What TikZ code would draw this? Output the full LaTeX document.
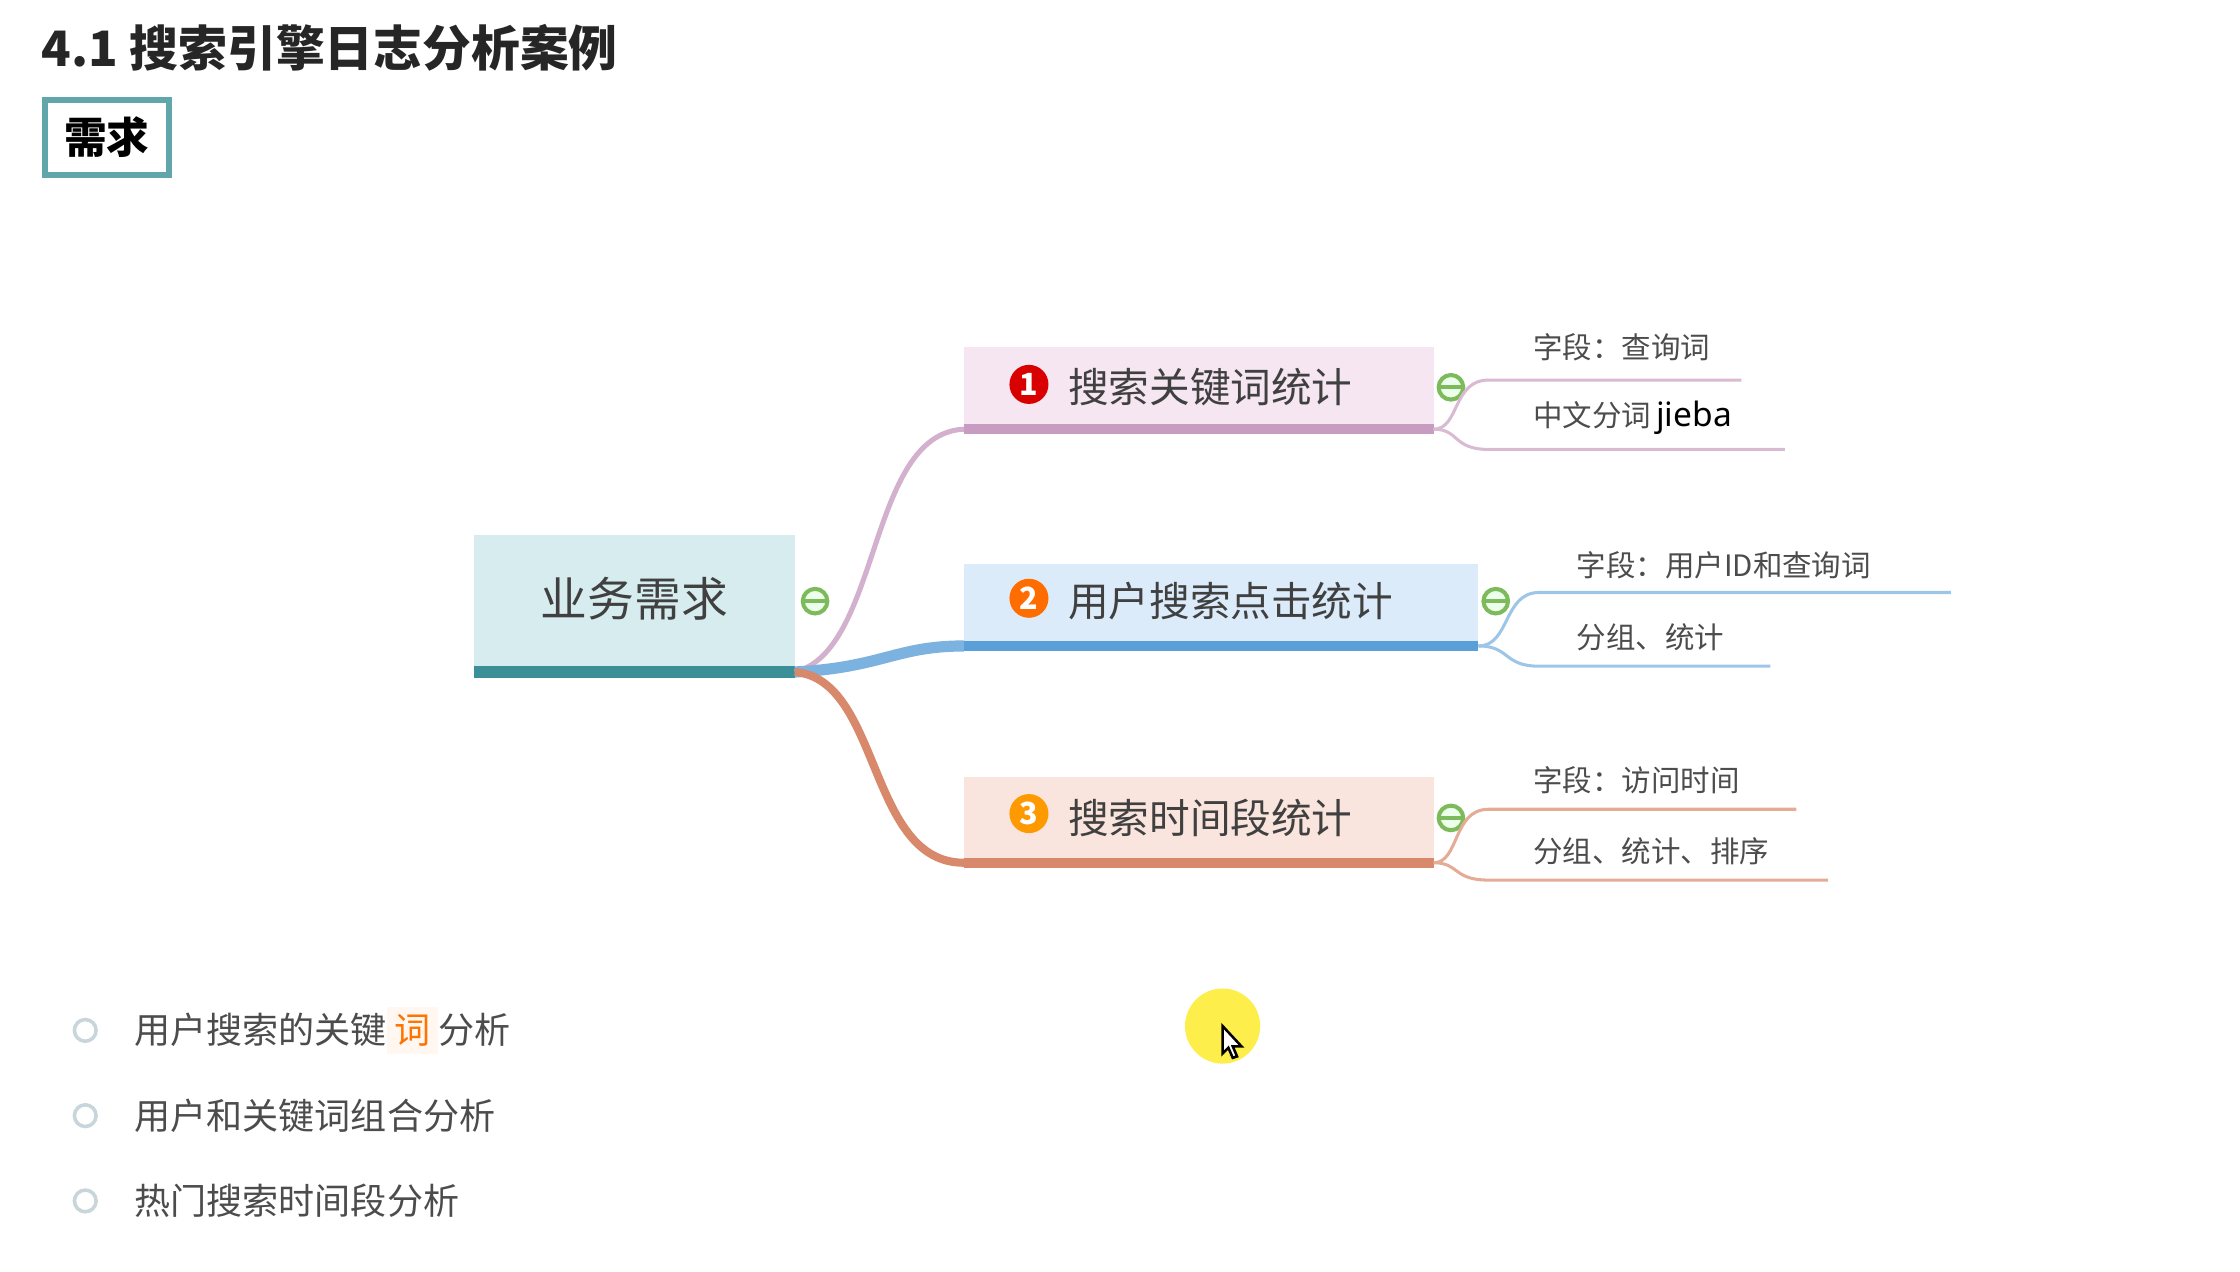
\documentclass[tikz,border=0pt]{standalone}
\usepackage{fontspec}
\setmainfont{Noto Sans CJK SC}
\newfontfamily\jieba{Noto Sans}
\usetikzlibrary{positioning}
\definecolor{teal1}{HTML}{D6ECEE}
\definecolor{teal2}{HTML}{3A9096}
\definecolor{pink1}{HTML}{F6E6F1}
\definecolor{pink2}{HTML}{C89CC0}
\definecolor{blue1}{HTML}{DCEBF9}
\definecolor{blue2}{HTML}{5B9FD8}
\definecolor{sal1}{HTML}{F9E5DD}
\definecolor{sal2}{HTML}{D9896B}
\definecolor{foldc}{HTML}{7DBA5C}

\begin{document}
\begin{tikzpicture}[x=0.01cm,y=-0.01cm,semithick]
  \tikzstyle{topic}=[draw=none,text=black!75,font=\fontsize{8}{9}\selectfont,
    inner sep=0pt,anchor=north west]
  \tikzstyle{leaf}=[text=black!70,font=\fontsize{5.8}{7}\selectfont,anchor=west,inner sep=0pt]
  \tikzstyle{fold}=[circle,draw=foldc,fill=green!8,line width=0.8pt,minimum size=0.17cm,inner sep=0pt,
    path picture={\draw[foldc,line width=0.8pt] ([xshift=-2.2pt]path picture bounding box.center)
      -- ([xshift=2.2pt]path picture bounding box.center);}]
  \tikzstyle{num}=[circle,fill=#1,text=white,minimum size=0.27cm,inner sep=0pt,
    font=\fontsize{6}{6}\selectfont\bfseries]
  \tikzstyle{bullet}=[circle,draw=cyan!25!gray!40,line width=0.7pt,minimum size=0.15cm,inner sep=0pt]
  \tikzstyle{item}=[text=black!70,font=\fontsize{7.1}{8}\selectfont,anchor=west,inner sep=0pt]

  \useasboundingbox (0,0) rectangle (1550,880);

  % heading
  \node[anchor=west,inner sep=0pt,font=\fontsize{9.6}{11}\selectfont\bfseries,text=black!85]
    (title) at (28,33) {4.1 搜索引擎日志分析案例};
  \node[draw=teal2!80,line width=1.2pt,minimum width=0.86cm,minimum height=0.5cm,
    font=\fontsize{8.4}{10}\selectfont\bfseries] (req) at (74,95) {需求};

  % central topic
  \fill[teal1] (328,370) rectangle (550,465);
  \draw[teal2,line width=2.2pt] (328,465) -- (550,465);
  \node[text=black!75,font=\fontsize{9.2}{10}\selectfont] (root) at (439,414) {业务需求};
  \coordinate (rootc) at (550,465);
  \node[fold] (f0) at (564,416) {};

  % branches
  \fill[pink1] (667,240) rectangle (992,297);
  \draw[pink2,line width=2pt] (667,297) coordinate (b1) -- (992,297) coordinate (e1);
  \fill[blue1] (667,390) rectangle (1023,447);
  \draw[blue2,line width=2pt] (667,447) coordinate (b2) -- (1023,447) coordinate (e2);
  \fill[sal1] (667,538) rectangle (992,597);
  \draw[sal2,line width=2pt] (667,597) coordinate (b3) -- (992,597) coordinate (e3);

  \node[num=red!85!black] (n1) at (712,266) {1};
  \node[topic,anchor=west] (t1) at (738,268) {搜索关键词统计};
  \node[num=orange!85!red] (n2) at (712,414) {2};
  \node[topic,anchor=west] (t2) at (738,416) {用户搜索点击统计};
  \node[num=orange!80!yellow] (n3) at (712,563) {3};
  \node[topic,anchor=west] (t3) at (738,566) {搜索时间段统计};

  \draw[pink2!80,line width=1pt] (rootc) .. controls (610,450) and (600,300) .. (b1);
  \draw[blue2!80,line width=2.2pt] (rootc) .. controls (610,462) and (620,447) .. (b2);
  \draw[sal2,line width=1.6pt] (rootc) .. controls (610,470) and (600,597) .. (b3);

  \node[fold] (f1) at (1004,268) {};
  \node[fold] (f2) at (1035,416) {};
  \node[fold] (f3) at (1004,566) {};

  % leaves
  \node[leaf] (l11) at (1060,240) {字段：查询词};
  \node[leaf] (l12) at (1060,289) {中文分词\,{\jieba\bfseries\color{black}\fontsize{6.6}{7}\selectfont jieba}};
  \node[leaf] (l21) at (1090,391) {字段：用户ID和查询词};
  \node[leaf] (l22) at (1090,441) {分组、统计};
  \node[leaf] (l31) at (1060,540) {字段：访问时间};
  \node[leaf] (l32) at (1060,589) {分组、统计、排序};

  \draw[pink2!70] (e1) .. controls (1010,297) and (1005,263) .. (1030,263) -- (1205,263);
  \draw[pink2!70] (e1) .. controls (1010,297) and (1005,311) .. (1030,311) -- (1235,311);
  \draw[blue2!60] (e2) .. controls (1045,447) and (1040,410) .. (1065,410) -- (1350,410);
  \draw[blue2!60] (e2) .. controls (1045,447) and (1040,461) .. (1065,461) -- (1225,461);
  \draw[sal2!70] (e3) .. controls (1010,597) and (1005,560) .. (1030,560) -- (1243,560);
  \draw[sal2!70] (e3) .. controls (1010,597) and (1005,609) .. (1030,609) -- (1265,609);

  % list below
  \node[bullet] (d1) at (59,713) {};
  \node[bullet] (d2) at (59,772) {};
  \node[bullet] (d3) at (59,831) {};
  \node[item] (i1) at (92,713) {用户搜索的关键{\setlength{\fboxsep}{1.5pt}\colorbox{orange!6}{\color{orange!90!red}词}}分析};
  \node[item] (i2) at (92,772) {用户和关键词组合分析};
  \node[item] (i3) at (92,831) {热门搜索时间段分析};

  % pointer highlight
  \fill[yellow!90!orange!70] (846,710) circle (26);
  \draw[fill=white,line width=0.5pt] (846,710) -- (846,729) -- (850,725) -- (853,732) -- (856,731)
    -- (853,724) -- (859,724) -- cycle;
\end{tikzpicture}
\end{document}
